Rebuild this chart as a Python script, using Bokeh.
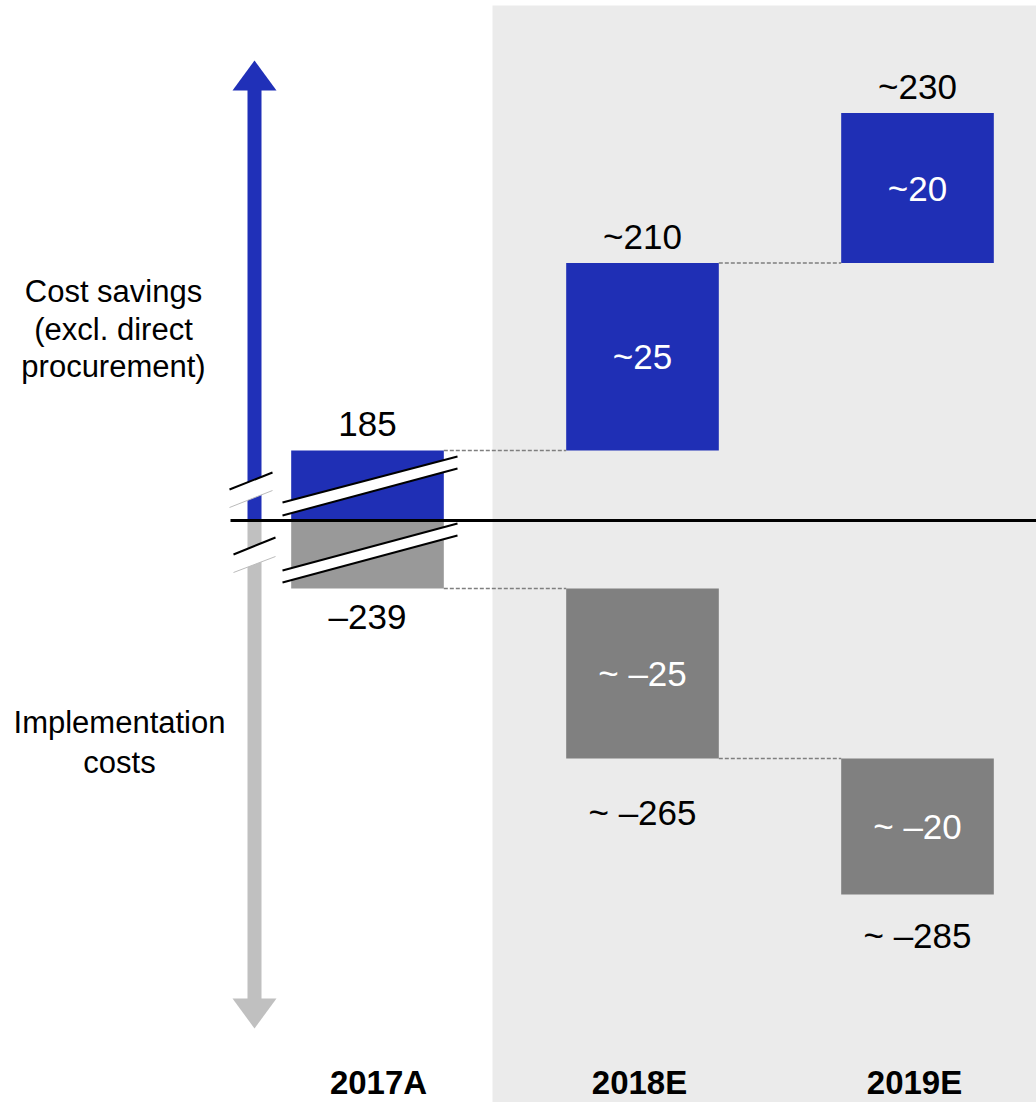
from bokeh.plotting import figure
from bokeh.models import Range1d
from bokeh.core.properties import value
from bokeh.embed import file_html
from bokeh.resources import INLINE

# ---------------- data ----------------
categories = ["2017A", "2018E", "2019E"]
savings_delta = [185, 25, 20]
cost_delta = [-239, -25, -20]
savings_total_labels = ["185", "~210", "~230"]
savings_inner_labels = ["", "~25", "~20"]
cost_total_labels = ["\u2013239", "~ \u2013265", "~ \u2013285"]
cost_inner_labels = ["", "~ \u201325", "~ \u201320"]
left_top_lines = ["Cost savings", "(excl. direct", "procurement)"]
left_bottom_lines = ["Implementation", "costs"]

# ---------------- layout / scales ----------------
W, H = 1036, 1102
ZERO_PX = 520            # screen row of the zero line
SAV_PX = 7.5             # px per unit on savings side
COST_PX = 6.8            # px per unit on cost side
X_PX = 275               # px per category step
X0_PX = 367              # screen column of first category
BREAK_SAV_PX = 70        # displayed height of broken 2017A savings bar
BREAK_COST_PX = 68       # displayed height of broken 2017A cost bar

sav_base = savings_delta[0] - BREAK_SAV_PX / SAV_PX
cost_base = cost_delta[0] + BREAK_COST_PX / COST_PX

def px_x(px):
    return (px - X0_PX) / X_PX

def py_s(py):
    return sav_base + (ZERO_PX - py) / SAV_PX

p = figure(width=W, height=H, output_backend="svg", toolbar_location=None,
           x_range=Range1d(px_x(0), px_x(W)),
           y_range=Range1d(py_s(H), py_s(0)),
           x_axis_location=None, y_axis_location=None,
           min_border=0, outline_line_color=None,
           background_fill_color="white", border_fill_color="white")
p.extra_y_ranges = {"cost": Range1d(cost_base - (H - ZERO_PX) / COST_PX,
                                    cost_base + ZERO_PX / COST_PX)}
p.grid.visible = False

FONT = value("Liberation Sans")
BLUE = "#1F2FB5"
GRAY_LIGHT = "#999999"
GRAY = "#808080"

# forecast background
p.quad(left=px_x(492), right=px_x(W + 5), bottom=py_s(H + 5), top=py_s(5),
       fill_color="#EBEBEB", line_color=None)

xs = list(range(len(categories)))

# savings waterfall
sav_cum = []
acc = 0
for d in savings_delta:
    acc += d
    sav_cum.append(acc)
sav_bottom = [sav_base] + sav_cum[:-1]
p.vbar(x=xs, width=0.555, bottom=sav_bottom, top=sav_cum,
       fill_color=BLUE, line_color=None)

# cost waterfall
cost_cum = []
acc = 0
for d in cost_delta:
    acc += d
    cost_cum.append(acc)
cost_top = [cost_base] + cost_cum[:-1]
p.vbar(x=xs, width=0.555, bottom=cost_cum, top=cost_top,
       fill_color=[GRAY_LIGHT, GRAY, GRAY], line_color=None, y_range_name="cost")

# connectors
hw = 0.555 / 2
for i in range(len(xs) - 1):
    p.segment(x0=xs[i] + hw, x1=xs[i + 1] - hw, y0=sav_cum[i], y1=sav_cum[i],
              line_color="#7F7F7F", line_width=1.3, line_dash="4 2")
    p.segment(x0=xs[i] + hw, x1=xs[i + 1] - hw, y0=cost_cum[i], y1=cost_cum[i],
              line_color="#7F7F7F", line_width=1.3, line_dash="4 2", y_range_name="cost")

# axis break marks
def band(xa, xb, ya1, yb1, ya2, yb2, top_color="black", bot_color="black", bot_w=2.0):
    X = [px_x(xa), px_x(xb), px_x(xb), px_x(xa)]
    Y = [py_s(ya1), py_s(yb1), py_s(yb2), py_s(ya2)]
    p.patch(X, Y, fill_color="white", line_color=None)
    p.line([px_x(xa), px_x(xb)], [py_s(ya1), py_s(yb1)], line_color=top_color, line_width=2.0)
    p.line([px_x(xa), px_x(xb)], [py_s(ya2), py_s(yb2)], line_color=bot_color, line_width=bot_w)

# arrows (vertical axis indicator)
ax = px_x(254)
p.segment(x0=ax, x1=ax, y0=py_s(89), y1=py_s(ZERO_PX), line_color="#2030B8",
          line_width=14, line_cap="butt")
p.patch([px_x(232), px_x(276), px_x(254)], [py_s(90), py_s(90), py_s(60)],
        fill_color="#2030B8", line_color=None)
p.segment(x0=ax, x1=ax, y0=py_s(ZERO_PX), y1=py_s(999), line_color="#C0C0C0",
          line_width=14, line_cap="butt")
p.patch([px_x(232), px_x(276), px_x(254)], [py_s(998), py_s(998), py_s(1028)],
        fill_color="#C0C0C0", line_color=None)

band(282, 457, 502, 456, 515, 468)
band(282, 457, 570, 523, 582, 535)
band(229, 272, 489, 472, 507, 490, bot_color="#BBBBBB", bot_w=1.0)
band(233, 275, 554, 537, 572, 556, bot_color="#BBBBBB", bot_w=1.0)

# zero line
p.segment(x0=px_x(230), x1=px_x(W + 5), y0=py_s(ZERO_PX), y1=py_s(ZERO_PX),
          line_color="black", line_width=3)

# labels
FS = "35px"
p.text(x=xs, y=sav_cum, text=savings_total_labels, text_font=FONT, text_font_size=FS,
       text_align="center", text_baseline="middle", y_offset=-27, text_color="black")
inner_s = [(x, (a + b) / 2, t) for x, a, b, t in zip(xs, sav_bottom, sav_cum, savings_inner_labels) if t]
p.text(x=[v[0] for v in inner_s], y=[v[1] for v in inner_s], text=[v[2] for v in inner_s],
       text_font=FONT, text_font_size=FS, text_align="center", text_baseline="middle",
       text_color="white")
p.text(x=xs, y=cost_cum, text=cost_total_labels, text_font=FONT, text_font_size=FS,
       text_align="center", text_baseline="middle", y_offset=[28, 54, 41],
       text_color="black", y_range_name="cost")
inner_c = [(x, (a + b) / 2, t) for x, a, b, t in zip(xs, cost_top, cost_cum, cost_inner_labels) if t]
p.text(x=[v[0] for v in inner_c], y=[v[1] for v in inner_c], text=[v[2] for v in inner_c],
       text_font=FONT, text_font_size=FS, text_align="center", text_baseline="middle",
       text_color="white", y_range_name="cost")

# category labels
p.text(x=xs, y=[py_s(1082)] * len(xs), text=categories, text_font=FONT,
       text_font_size="33px", text_font_style="bold", text_align="center",
       text_baseline="middle", x_offset=[11, -3, -3], text_color="black")

# left side descriptions
p.text(x=[px_x(113)] * 3, y=[py_s(v) for v in (291, 329, 366)], text=left_top_lines,
       text_font=FONT, text_font_size="31px", text_align="center",
       text_baseline="middle", text_color="black")
p.text(x=[px_x(119)] * 2, y=[py_s(v) for v in (722, 762)], text=left_bottom_lines,
       text_font=FONT, text_font_size="31px", text_align="center",
       text_baseline="middle", text_color="black")

open("out.html", "w").write(file_html(p, INLINE))
